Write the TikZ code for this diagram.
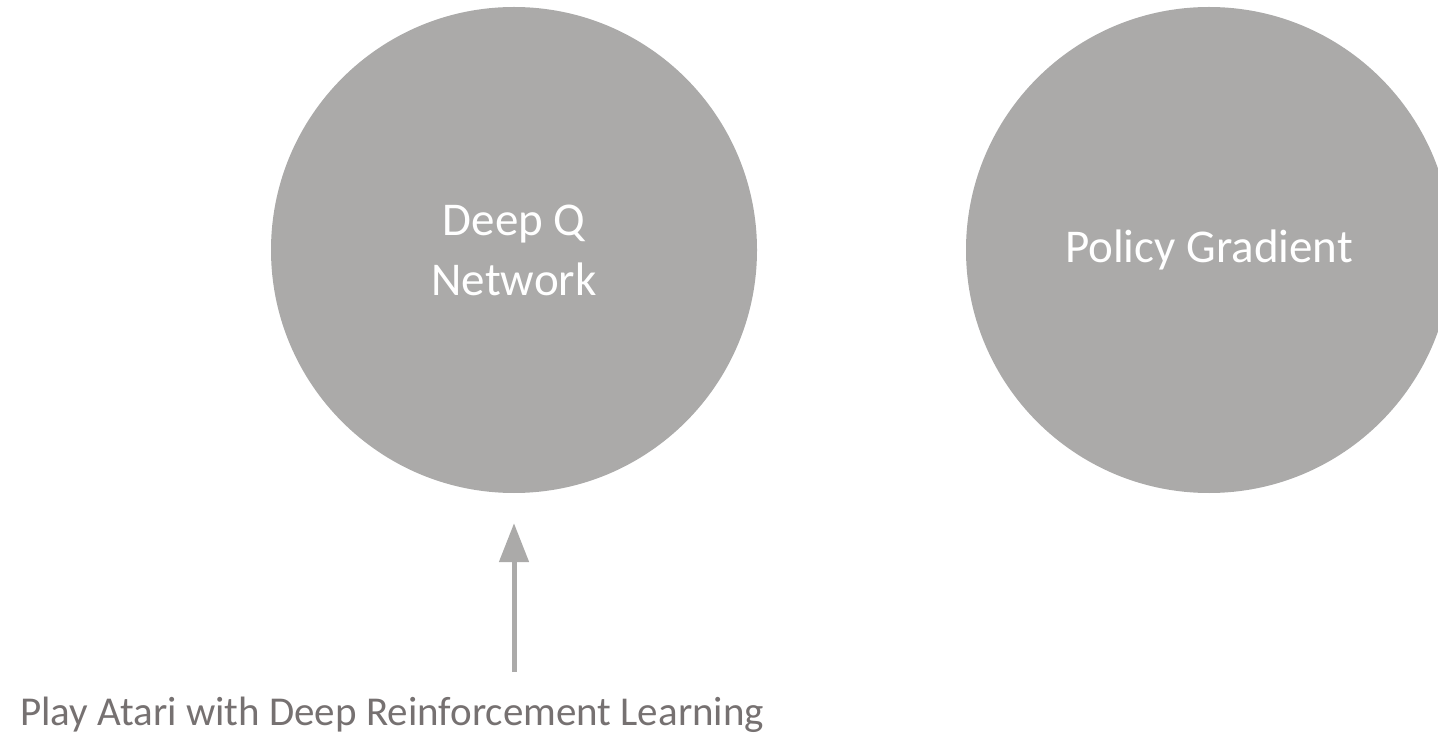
\documentclass[tikz,border=0pt]{standalone}
\usepackage{fontspec}
\setmainfont{Carlito}
\usepackage{xcolor}
\usepackage{tikz}
\usetikzlibrary{positioning, arrows.meta}

\definecolor{circlegray}{HTML}{ABAAA9}
\definecolor{textgray}{HTML}{767171}

\tikzset{
    method/.style={circle, fill=circlegray, minimum size=486pt, inner sep=0pt,
        text=white, align=center, font=\fontsize{47}{60}\selectfont},
    paper/.style={text=textgray, font=\fontsize{41}{50}\selectfont, inner sep=0pt}
}

\begin{document}
\begin{tikzpicture}[x=1pt, y=-1pt]
    % cadre
    \useasboundingbox (0,0) rectangle (1438,743);
    \clip (0,0) rectangle (1438,743);

    % les deux méthodes
    \node[method] (dqn) at (514,250) {Deep Q\\Network};
    \node[method] (pg) at (1209,250) {Policy Gradient};

    % article
    \node[paper, anchor=base west] (atari) at (20,725) {Play Atari with Deep Reinforcement Learning};
    \coordinate (foot) at (514,672);
    \draw[-{Triangle[length=39pt, width=29pt]}, line width=5pt, circlegray]
        (foot) -- ([yshift=-30pt]dqn.south);

\end{tikzpicture}
\end{document}
